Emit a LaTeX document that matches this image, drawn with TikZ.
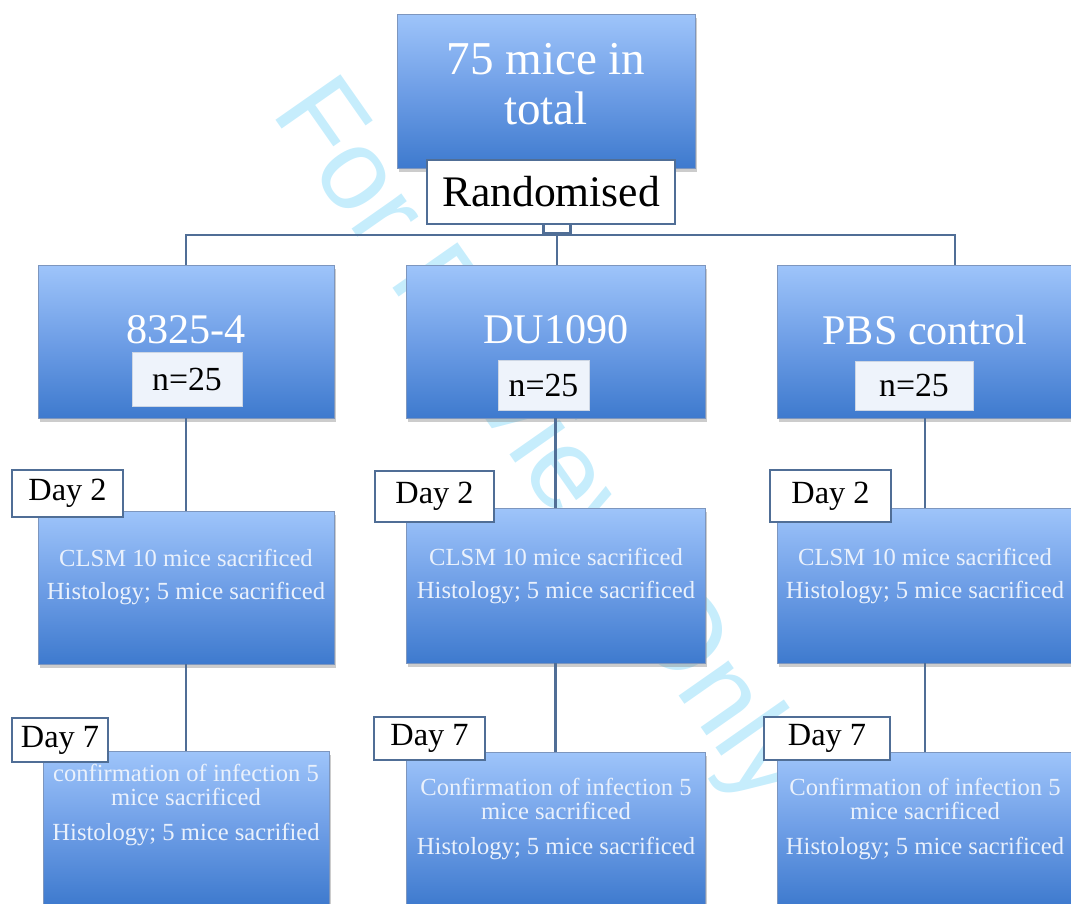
\documentclass[tikz,border=0pt]{standalone}
\usepackage{fontspec}
\setmainfont{Liberation Serif}
\newfontfamily\wmfont{Liberation Sans}
\usetikzlibrary{shadows}

\definecolor{boxtop}{RGB}{158,196,250}
\definecolor{boxmid}{RGB}{110,158,230}
\definecolor{boxbot}{RGB}{62,122,206}
\definecolor{boxedge}{RGB}{125,150,190}
\definecolor{edge}{RGB}{80,110,150}
\definecolor{tagfill}{RGB}{238,243,251}
\definecolor{tagedge}{RGB}{205,214,228}
\definecolor{paletext}{RGB}{234,241,252}
\definecolor{wmcyan}{RGB}{198,237,252}

\newcommand{\pxu}{0.025cm}

\tikzset{
  bluebox/.style={rectangle, draw=boxedge, line width=0.4pt,
    top color=boxtop, bottom color=boxbot, middle color=boxmid,
    drop shadow={shadow xshift=1.5pt, shadow yshift=-2.5pt, opacity=0.4},
    inner sep=0pt},
  tagbox/.style={rectangle, draw=edge, line width=1.4pt, fill=white, inner sep=0pt},
  ntag/.style={rectangle, draw=tagedge, line width=0.4pt, fill=tagfill, inner sep=0pt,
    font=\fontsize{24}{26}\selectfont},
  bigtext/.style={text=white, align=center, font=\fontsize{33.5}{35.5}\selectfont},
  strain/.style={text=white, font=\fontsize{30}{32}\selectfont},
  body/.style={text=paletext, align=center, font=\fontsize{17.5}{17}\selectfont},
  daytag/.style={tagbox, font=\fontsize{23}{25}\selectfont},
  link/.style={draw=edge, line width=1.8pt},
  wmtext/.style={text=wmcyan, font=\wmfont\fontsize{82}{82}\selectfont, inner sep=0pt}
}

\begin{document}
\begin{tikzpicture}[x=0.025cm, y=-0.025cm]
  \useasboundingbox (0,0) rectangle (1071,903);
  \clip (0,0) rectangle (1071,903);

  % watermark behind everything
  \node[wmtext, anchor=base west, rotate=-55] (wm) at (270,112) {For Review Only};

  % top of the tree
  \node[bluebox, minimum width=298*\pxu, minimum height=154*\pxu] (total) at (546,91) {};
  \node[bigtext] (totalt) at (546,84) {75 mice in\\total};
  \node[tagbox, minimum width=248*\pxu, minimum height=64*\pxu,
        font=\fontsize{31}{33}\selectfont] (rand) at (551,192) {Randomised};
  \node[link, draw, fill=white, minimum width=27*\pxu, minimum height=9*\pxu,
        inner sep=0pt] (joint) at (557,228.5) {};

  % groups
  \node[bluebox, minimum width=296*\pxu, minimum height=153*\pxu] (g1) at (186,341.5) {};
  \node[bluebox, minimum width=299*\pxu, minimum height=153*\pxu] (g2) at (555.5,341.5) {};
  \node[bluebox, minimum width=296*\pxu, minimum height=153*\pxu] (g3) at (925,341.5) {};
  \node[strain] (g1t) at (186,330) {8325-4};
  \node[strain] (g2t) at (556,330) {DU1090};
  \node[strain] (g3t) at (925,330) {PBS control};
  \node[ntag, minimum width=110*\pxu, minimum height=54*\pxu] (n1) at (187,379) {n=25};
  \node[ntag, minimum width=91*\pxu, minimum height=50*\pxu] (n2) at (543.5,385) {n=25};
  \node[ntag, minimum width=118*\pxu, minimum height=49*\pxu] (n3) at (914,385.5) {n=25};

  % day 2
  \node[bluebox, minimum width=296*\pxu, minimum height=153*\pxu] (d2a) at (186,587.5) {};
  \node[bluebox, minimum width=299*\pxu, minimum height=155*\pxu] (d2b) at (555.5,585.5) {};
  \node[bluebox, minimum width=296*\pxu, minimum height=155*\pxu] (d2c) at (925,585.5) {};
  \node[body] (d2at) at (186,577) {CLSM 10 mice sacrificed\\[7pt]Histology; 5 mice sacrificed};
  \node[body] (d2bt) at (556,576) {CLSM 10 mice sacrificed\\[7pt]Histology; 5 mice sacrificed};
  \node[body] (d2ct) at (925,576) {CLSM 10 mice sacrificed\\[7pt]Histology; 5 mice sacrificed};
  \node[daytag, minimum width=111*\pxu, minimum height=47*\pxu] (day2a) at (67.5,493.5) {Day 2};
  \node[daytag, minimum width=119*\pxu, minimum height=51*\pxu] (day2b) at (434.5,496.5) {Day 2};
  \node[daytag, minimum width=121*\pxu, minimum height=52*\pxu] (day2c) at (830.5,496) {Day 2};

  % day 7
  \node[bluebox, minimum width=286*\pxu, minimum height=154*\pxu] (d7a) at (186,828) {};
  \node[bluebox, minimum width=299*\pxu, minimum height=154*\pxu] (d7b) at (555.5,829) {};
  \node[bluebox, minimum width=296*\pxu, minimum height=154*\pxu] (d7c) at (925,829) {};
  \node[body] (d7at) at (186,805) {confirmation of infection 5\\mice sacrificed\\[8.5pt]Histology; 5 mice sacrified};
  \node[body] (d7bt) at (556,819) {Confirmation of infection 5\\mice sacrificed\\[8.5pt]Histology; 5 mice sacrificed};
  \node[body] (d7ct) at (925,819) {Confirmation of infection 5\\mice sacrificed\\[8.5pt]Histology; 5 mice sacrificed};
  \node[daytag, minimum width=96*\pxu, minimum height=44*\pxu] (day7a) at (60,740) {Day 7};
  \node[daytag, minimum width=111*\pxu, minimum height=43*\pxu] (day7b) at (429.5,738.5) {Day 7};
  \node[daytag, minimum width=126*\pxu, minimum height=43*\pxu] (day7c) at (827,738.5) {Day 7};

  % connectors
  \coordinate (tap) at (955,235);
  \draw[link] (g1.north) |- (tap) -- (tap |- g3.north);
  \draw[link] (joint.south) -- (joint.south |- g2.north);
  \foreach \a/\b in {g1/d2a, g2/d2b, g3/d2c, d2a/d7a, d2b/d7b, d2c/d7c}
    {\draw[link] (\a.south) -- (\b.north);}
\end{tikzpicture}
\end{document}
